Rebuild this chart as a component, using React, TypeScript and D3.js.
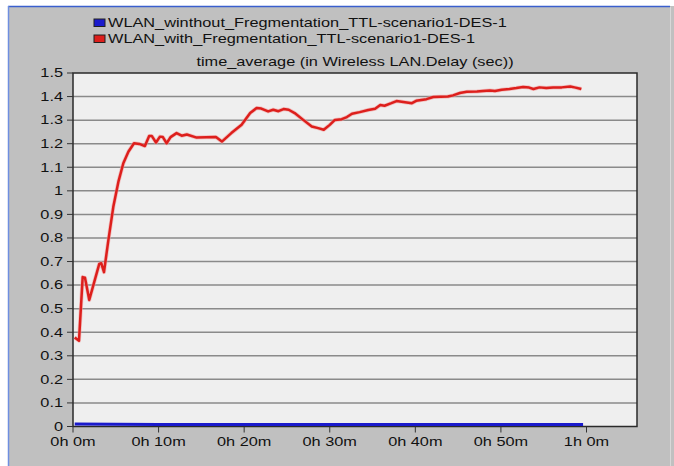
import React from 'react';
import * as d3 from 'd3';

// series (time in minutes, delay in seconds)
const redTime = [0.2, 0.7, 1.13, 1.4, 1.9, 3.07, 3.3, 3.62, 4.13, 4.71, 5.3, 5.88, 6.47, 7.13, 7.75, 8.4, 8.9, 9.2, 9.7, 10.16, 10.5, 10.94, 11.4, 12.1, 12.7, 13.3, 14.45, 16.7, 17.4, 18.5, 19.7, 20.7, 21.45, 22.0, 22.8, 23.4, 24.0, 24.6, 25.2, 25.9, 26.9, 27.9, 28.65, 29.3, 30.0, 30.6, 31.4, 32.0, 32.6, 33.5, 34.5, 35.3, 35.9, 36.4, 37.2, 37.8, 38.6, 39.6, 40.1, 41.3, 42.1, 43.8, 44.4, 45.2, 46.0, 47.2, 47.9, 48.7, 49.3, 50.1, 51.0, 51.8, 52.6, 53.3, 53.8, 54.5, 55.3, 56.1, 57.1, 58.1, 58.6, 59.4];
const redDelay = [0.378, 0.364, 0.634, 0.631, 0.537, 0.69, 0.693, 0.655, 0.79, 0.932, 1.038, 1.117, 1.166, 1.202, 1.199, 1.19, 1.233, 1.233, 1.205, 1.23, 1.228, 1.202, 1.228, 1.245, 1.234, 1.239, 1.226, 1.228, 1.209, 1.245, 1.28, 1.33, 1.351, 1.349, 1.337, 1.344, 1.338, 1.347, 1.344, 1.33, 1.301, 1.273, 1.266, 1.259, 1.28, 1.301, 1.304, 1.313, 1.327, 1.334, 1.343, 1.348, 1.364, 1.361, 1.372, 1.381, 1.377, 1.372, 1.382, 1.389, 1.398, 1.4, 1.405, 1.415, 1.42, 1.422, 1.424, 1.426, 1.424, 1.429, 1.432, 1.436, 1.441, 1.438, 1.432, 1.439, 1.436, 1.438, 1.439, 1.443, 1.439, 1.432];

const blueTime = [0.2, 5, 10, 15, 20, 25, 30, 35, 40, 45, 50, 55, 59.6];
const blueDelay = [0.011, 0.01, 0.009, 0.009, 0.009, 0.009, 0.009, 0.009, 0.009, 0.009, 0.009, 0.009, 0.009];

const seriesNames = [
  'WLAN_winthout_Fregmentation_TTL-scenario1-DES-1',
  'WLAN_with_Fregmentation_TTL-scenario1-DES-1',
];
const seriesColors = ['#1a1acc', '#dd1f1c'];

const yTicks = [0, 0.1, 0.2, 0.3, 0.4, 0.5, 0.6, 0.7, 0.8, 0.9, 1, 1.1, 1.2, 1.3, 1.4, 1.5];
const xTicks = [0, 10, 20, 30, 40, 50, 60];
const xTickLabels = ['0h 0m', '0h 10m', '0h 20m', '0h 30m', '0h 40m', '0h 50m', '1h 0m'];

const title = 'time_average (in Wireless LAN.Delay (sec))';

const W = 674, H = 466;
const left = 73, right = 637, top = 73, bottom = 426.5;
const font = 'Liberation Sans, Arial, sans-serif';
const stretch = 1.36; // the screenshot text is wider than it is tall

function Label({ x, y, anchor = 'start', children }: { x: number; y: number; anchor?: string; children: React.ReactNode }) {
  return (
    <text transform={`translate(${x},${y}) scale(${stretch},1)`} fontSize={12} textAnchor={anchor} fill="#111">
      {children}
    </text>
  );
}

export default function App() {
  const x = d3.scaleLinear().domain([0, 65.9]).range([left, right]);
  const y = d3.scaleLinear().domain([0, 1.5]).range([bottom, top]);

  const line = d3.line<[number, number]>()
    .x(d => x(d[0]))
    .y(d => y(d[1]));

  const red = redTime.map((t, i) => [t, redDelay[i]] as [number, number]);
  const blue = blueTime.map((t, i) => [t, blueDelay[i]] as [number, number]);

  return (
    <svg width={W} height={H} style={{ position: 'absolute', left: 0, top: 0 }} fontFamily={font}>
      <rect x={0} y={0} width={W} height={H} fill="#ffffff" />
      <rect x={8} y={6} width={W - 8} height={H - 6} fill="#c0c0c0" />
      <line x1={8} x2={670} y1={6.5} y2={6.5} stroke="#3a5fcd" strokeWidth={1.5} />
      <line x1={8.5} x2={8.5} y1={6} y2={H} stroke="#6f8fe0" strokeWidth={1.5} />
      <line x1={670.5} x2={670.5} y1={7} y2={H} stroke="#d8d8d8" strokeWidth={1} />

      {/* legend */}
      {seriesNames.map((name, i) => (
        <g key={name}>
          <rect x={94} y={19 + i * 16} width={11} height={7.5} fill={seriesColors[i]} stroke="#202020" strokeWidth={1} />
          <Label x={108} y={27 + i * 16}>{name}</Label>
        </g>
      ))}

      <Label x={(left + right) / 2} y={66} anchor="middle">{title}</Label>

      {/* plot area */}
      <rect x={left} y={top} width={right - left} height={bottom - top} fill="#efefef" />
      {yTicks.slice(1, -1).map(v => (
        <line key={v} x1={left} x2={right} y1={y(v)} y2={y(v)} stroke="#8a8a8a" strokeWidth={1.5} />
      ))}
      <rect x={left} y={top} width={right - left} height={bottom - top} fill="none" stroke="#2a2a2a" strokeWidth={1.5} />

      {/* y axis */}
      {yTicks.map(v => (
        <g key={v}>
          <line x1={left - 6} x2={left} y1={y(v)} y2={y(v)} stroke="#333" strokeWidth={1} />
          <Label x={left - 10} y={y(v) + 4.3} anchor="end">{String(+v.toFixed(1))}</Label>
        </g>
      ))}

      {/* x axis */}
      {xTicks.map((t, i) => (
        <g key={t}>
          <line x1={x(t)} x2={x(t)} y1={bottom} y2={bottom + 6} stroke="#333" strokeWidth={1} />
          <Label x={x(t)} y={446} anchor="middle">{xTickLabels[i]}</Label>
        </g>
      ))}

      <path d={line(blue) || ''} fill="none" stroke={seriesColors[0]} strokeWidth={3} />
      <path d={line(red) || ''} fill="none" stroke="#f2a0a0" strokeWidth={4} strokeLinejoin="round" opacity={0.6} />
      <path d={line(red) || ''} fill="none" stroke={seriesColors[1]} strokeWidth={2.5} strokeLinejoin="round" />
    </svg>
  );
}
